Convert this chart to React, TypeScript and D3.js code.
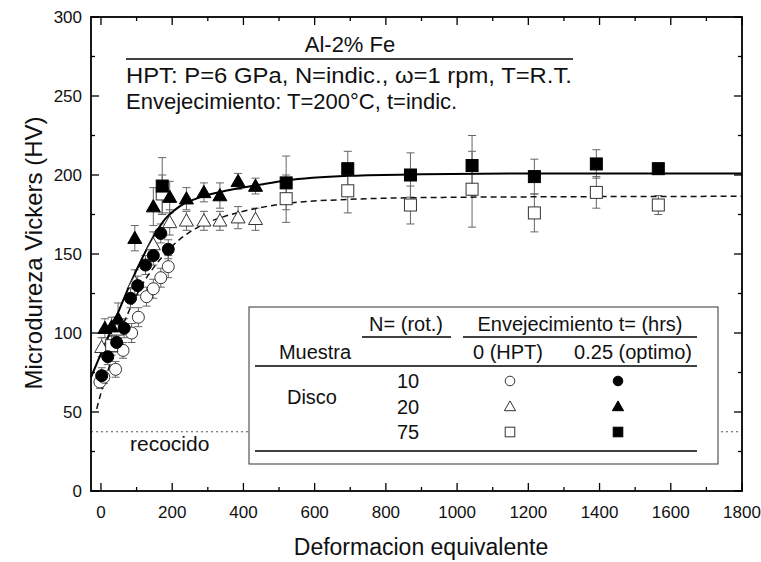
import React from "react";
import * as d3 from "d3";

// ---- data: [strain, HV, error] ----
const n10HPT: [number, number, number][] = [
  [-3, 69, 4], [8, 72, 4], [41, 77, 5], [62, 89, 5], [86, 100, 6], [105, 110, 6],
  [128, 123, 6], [147, 128, 6], [168, 135, 6], [189, 142, 7],
];
const n10Aged: [number, number, number][] = [
  [2, 73, 5], [19, 85, 5], [44, 94, 6], [65, 103, 6], [83, 122, 6], [103, 130, 6],
  [125, 143, 6], [147, 149, 6], [168, 163, 6], [189, 153, 6],
];
const n20HPT: [number, number, number][] = [
  [2, 91, 6], [44, 102, 8], [95, 132, 8], [147, 156, 8], [193, 170, 8], [240, 171, 6],
  [289, 171, 6], [334, 171, 6], [385, 173, 7], [434, 172, 7],
];
const n20Aged: [number, number, number][] = [
  [11, 103, 6], [30, 104, 6], [48, 109, 10], [95, 160, 8], [147, 180, 12], [193, 186, 10],
  [240, 185, 7], [289, 189, 6], [334, 187, 8], [385, 196, 5], [434, 193, 5],
];
const n75HPT: [number, number, number][] = [
  [30, 92, 6], [172, 188, 12], [520, 185, 15], [693, 190, 14], [869, 181, 12],
  [1042, 191, 24], [1217, 176, 12], [1391, 189, 10], [1565, 181, 6],
];
const n75Aged: [number, number, number][] = [
  [172, 193, 18], [520, 195, 17], [693, 204, 11], [869, 200, 14], [1042, 206, 19],
  [1217, 199, 11], [1391, 207, 9], [1565, 204, 3],
];
// fitted curves
const fitAged: [number, number][] = [
  [-28, 72], [0, 87], [25, 100], [50, 114], [80, 130], [115, 147], [150, 162], [180, 172],
  [220, 180], [280, 186], [350, 190], [450, 194], [520, 196.5], [700, 199.5], [900, 200.5],
  [1200, 201], [1800, 201],
];
const fitHPT: [number, number][] = [
  [-12, 52], [0, 62], [25, 80], [50, 98], [75, 112], [100, 124], [125, 134], [150, 142],
  [200, 155], [250, 164], [300, 170], [350, 174], [440, 179], [520, 182], [700, 184.6],
  [870, 185.6], [1240, 186.2], [1800, 186.5],
];
const annealedHV = 37.5;
const xTicks = [0, 200, 400, 600, 800, 1000, 1200, 1400, 1600, 1800];
const yTicks = [0, 50, 100, 150, 200, 250, 300];
const legendRows = ["10", "20", "75"];

const W = 761, H = 562;
const L = 91, R = 742, T = 17, B = 491;
const FONT = "'Liberation Sans', Arial, sans-serif";

type Shape = "circle" | "triangle" | "square";

function Marker({ cx, cy, shape, filled, s = 1 }: { cx: number; cy: number; shape: Shape; filled: boolean; s?: number }) {
  const fill = filled ? "#000" : "#fff";
  const stroke = filled ? "#000" : "#333";
  if (shape === "circle") return <circle cx={cx} cy={cy} r={6 * s} fill={fill} stroke={stroke} strokeWidth={1} />;
  if (shape === "square") {
    const h = 6 * s;
    return <rect x={cx - h} y={cy - h} width={2 * h} height={2 * h} fill={fill} stroke={stroke} strokeWidth={1} />;
  }
  const a = 7 * s;
  const p = `M${cx},${cy - a}L${cx + a},${cy + a * 0.75}L${cx - a},${cy + a * 0.75}Z`;
  return <path d={p} fill={fill} stroke={stroke} strokeWidth={1} />;
}

export default function App() {
  const x = d3.scaleLinear().domain([-28, 1800]).range([L, R]);
  const y = d3.scaleLinear().domain([0, 300]).range([B, T]);
  const line = d3.line<[number, number]>().x((d) => x(d[0])).y((d) => y(d[1])).curve(d3.curveMonotoneX);

  const series: { data: [number, number, number][]; shape: Shape; filled: boolean }[] = [
    { data: n10HPT, shape: "circle", filled: false },
    { data: n20HPT, shape: "triangle", filled: false },
    { data: n75HPT, shape: "square", filled: false },
    { data: n10Aged, shape: "circle", filled: true },
    { data: n20Aged, shape: "triangle", filled: true },
    { data: n75Aged, shape: "square", filled: true },
  ];

  const xMinor = d3.range(0, 1801, 100);
  const yMinor = d3.range(0, 301, 25);

  return (
    <svg width={W} height={H} style={{ position: "absolute", left: 0, top: 0, background: "#fff" }} fontFamily={FONT}>
      <rect width={W} height={H} fill="#fff" />
      {/* annealed line */}
      <line x1={L} x2={R} y1={y(annealedHV)} y2={y(annealedHV)} stroke="#555" strokeWidth={1} strokeDasharray="2,3" />
      <text x={130} y={451} fontSize={21} fill="#111">recocido</text>

      {/* error bars */}
      {series.map((s, i) =>
        s.data.map((d, j) => (
          <g key={`e${i}-${j}`} stroke="#666" strokeWidth={1}>
            <line x1={x(d[0])} x2={x(d[0])} y1={y(d[1] - d[2])} y2={y(d[1] + d[2])} />
            <line x1={x(d[0]) - 4} x2={x(d[0]) + 4} y1={y(d[1] - d[2])} y2={y(d[1] - d[2])} />
            <line x1={x(d[0]) - 4} x2={x(d[0]) + 4} y1={y(d[1] + d[2])} y2={y(d[1] + d[2])} />
          </g>
        ))
      )}
      {/* fits */}
      <path d={line(fitHPT) || ""} fill="none" stroke="#111" strokeWidth={1.5} strokeDasharray="6,4" />
      <path d={line(fitAged) || ""} fill="none" stroke="#000" strokeWidth={2} />
      {/* markers */}
      {series.map((s, i) =>
        s.data.map((d, j) => <Marker key={`m${i}-${j}`} cx={x(d[0])} cy={y(d[1])} shape={s.shape} filled={s.filled} />)
      )}

      {/* frame */}
      <rect x={L} y={T} width={R - L} height={B - T} fill="none" stroke="#000" strokeWidth={1.8} />
      {xMinor.map((v) => {
        const major = v % 200 === 0;
        const len = major ? 8 : 4;
        return (
          <g key={`xt${v}`} stroke="#000" strokeWidth={1.3}>
            <line x1={x(v)} x2={x(v)} y1={B} y2={B - len} />
            <line x1={x(v)} x2={x(v)} y1={T} y2={T + len} />
          </g>
        );
      })}
      {yMinor.map((v) => {
        const major = v % 50 === 0;
        const len = major ? 8 : 4;
        return (
          <g key={`yt${v}`} stroke="#000" strokeWidth={1.3}>
            <line x1={L} x2={L + len} y1={y(v)} y2={y(v)} />
            <line x1={R} x2={R - len} y1={y(v)} y2={y(v)} />
          </g>
        );
      })}
      {xTicks.map((v) => (
        <text key={`xl${v}`} x={x(v)} y={518} fontSize={17} textAnchor="middle" fill="#111">{v}</text>
      ))}
      {yTicks.map((v) => (
        <text key={`yl${v}`} x={82} y={y(v) + 6} fontSize={17} textAnchor="end" fill="#111">{v}</text>
      ))}
      <text x={421} y={555} fontSize={23} textAnchor="middle" fill="#111">Deformacion equivalente</text>
      <text transform={`translate(42,${253}) rotate(-90)`} fontSize={24} textAnchor="middle" fill="#111">Microdureza Vickers (HV)</text>

      {/* header */}
      <text x={350} y={52} fontSize={22} textAnchor="middle" fill="#111">Al-2% Fe</text>
      <line x1={126} x2={573} y1={59} y2={59} stroke="#000" strokeWidth={1.5} />
      <text x={126} y={83} fontSize={22} textLength={446} lengthAdjust="spacingAndGlyphs" fill="#111">HPT: P=6 GPa, N=indic., ω=1 rpm, T=R.T.</text>
      <text x={126} y={109} fontSize={22} fill="#111">Envejecimiento: T=200°C, t=indic.</text>

      {/* legend table */}
      <rect x={249} y={307} width={469} height={157} fill="#fff" stroke="#333" strokeWidth={1} />
      <text x={406} y={331} fontSize={20} textAnchor="middle" fill="#111">N= (rot.)</text>
      <line x1={362} x2={451} y1={337} y2={337} stroke="#000" strokeWidth={1.5} />
      <text x={580} y={331} fontSize={20} textAnchor="middle" fill="#111">Envejecimiento t= (hrs)</text>
      <line x1={463} x2={697} y1={337} y2={337} stroke="#000" strokeWidth={1.5} />
      <text x={315} y={359} fontSize={20} textAnchor="middle" fill="#111">Muestra</text>
      <text x={508} y={359} fontSize={20} textAnchor="middle" fill="#111">0 (HPT)</text>
      <text x={633} y={359} fontSize={20} textAnchor="middle" fill="#111">0.25 (optimo)</text>
      <line x1={255} x2={697} y1={366} y2={366} stroke="#000" strokeWidth={1.5} />
      <text x={312} y={404} fontSize={20} textAnchor="middle" fill="#111">Disco</text>
      {legendRows.map((r, i) => {
        const cy = 381 + i * 25.5;
        const shape: Shape = i === 0 ? "circle" : i === 1 ? "triangle" : "square";
        return (
          <g key={`lg${r}`}>
            <text x={408} y={cy + 7} fontSize={20} textAnchor="middle" fill="#111">{r}</text>
            <Marker cx={510} cy={cy} shape={shape} filled={false} s={0.8} />
            <Marker cx={618} cy={cy} shape={shape} filled={true} s={0.8} />
          </g>
        );
      })}
      <line x1={255} x2={697} y1={451} y2={451} stroke="#000" strokeWidth={1.5} />
    </svg>
  );
}
